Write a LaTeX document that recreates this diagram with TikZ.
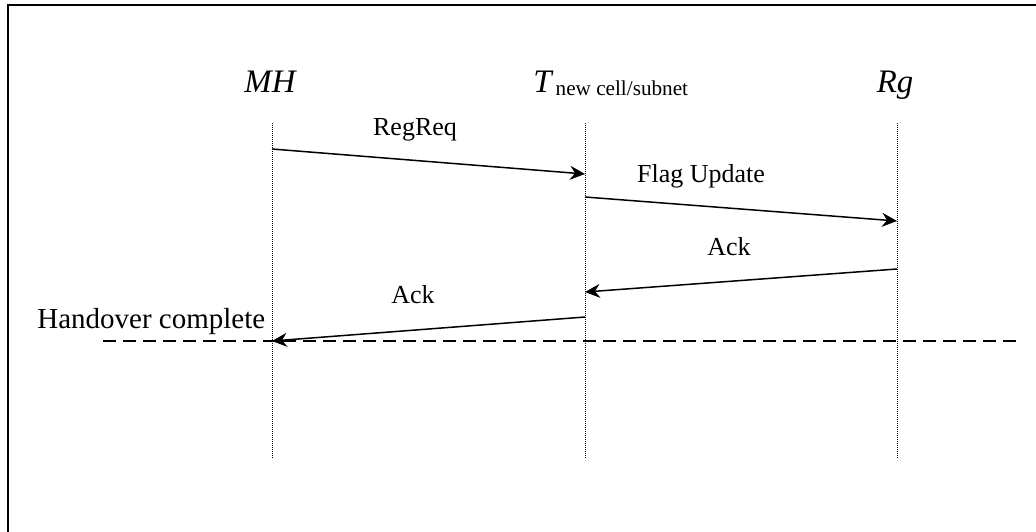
\documentclass[tikz,border=0pt]{standalone}
\usepackage{fontspec}
\setmainfont{Liberation Serif}
\usetikzlibrary{arrows.meta}
\tikzset{
  lifeline/.style={line width=0.5pt, dash pattern=on 0.5pt off 0.5pt},
  msg/.style={line width=0.75pt, -{Stealth[length=7.5pt,width=7pt,inset=2.5pt]}},
  msglabel/.style={font=\fontsize{13}{15}\selectfont, inner sep=0pt, anchor=base},
  actor/.style={font=\fontsize{16.4}{19}\selectfont\itshape, inner sep=0pt, anchor=base},
}
\begin{document}
\begin{tikzpicture}[x=0.5pt,y=-0.5pt]
    \useasboundingbox (0,0) rectangle (1036,531);

    % frame, cut off on the right and at the bottom
    \draw[line width=1pt] (8,560) -- (8,5) -- (1060,5);

    % actors
    \node[actor] (mh) at (270,92) {MH};
    \node[actor, anchor=base west] (tn) at (533,92) {T\hspace{2pt}\raisebox{-1.5pt}{\fontsize{10.6}{12}\selectfont\upshape new cell/subnet}};
    \node[actor] (rg) at (895,92) {Rg};

    % lifelines
    \coordinate (mhtop) at (272,123);
    \coordinate (mhbot) at (272,458);
    \coordinate (tntop) at (585,123);
    \coordinate (tnbot) at (585,458);
    \coordinate (rgtop) at (897,123);
    \coordinate (rgbot) at (897,458);
    \draw[lifeline] (mhtop) -- (mhbot);
    \draw[lifeline] (tntop) -- (tnbot);
    \draw[lifeline] (rgtop) -- (rgbot);

    % points on the lifelines
    \coordinate (mh1) at (272,149);
    \coordinate (tn1) at (585,174);
    \coordinate (tn2) at (585,197);
    \coordinate (rg2) at (897,221);
    \coordinate (rg3) at (897,269);
    \coordinate (tn3) at (585,292);
    \coordinate (tn4) at (585,317);
    \coordinate (mh4) at (272,341);

    % messages
    \draw[msg] (mh1) -- (tn1);
    \node[msglabel] (regreq) at (415,135) {RegReq};

    \draw[msg] (tn2) -- (rg2);
    \node[msglabel] (flag) at (701,182) {Flag Update};

    \draw[msg] (rg3) -- (tn3);
    \node[msglabel] (ack1) at (729,255) {Ack};

    \draw[msg] (tn4) -- (mh4);
    \node[msglabel] (ack2) at (413,303) {Ack};

    % handover line
    \coordinate (hol) at (103,341);
    \coordinate (hor) at (1017,341);
    \draw[line width=1pt, dash pattern=on 6.5pt off 3.5pt] (hol) -- (hor);
    \node[font=\fontsize{14.5}{17}\selectfont, inner sep=0pt, anchor=base west] (ho) at (37,328) {Handover complete};
\end{tikzpicture}
\end{document}
